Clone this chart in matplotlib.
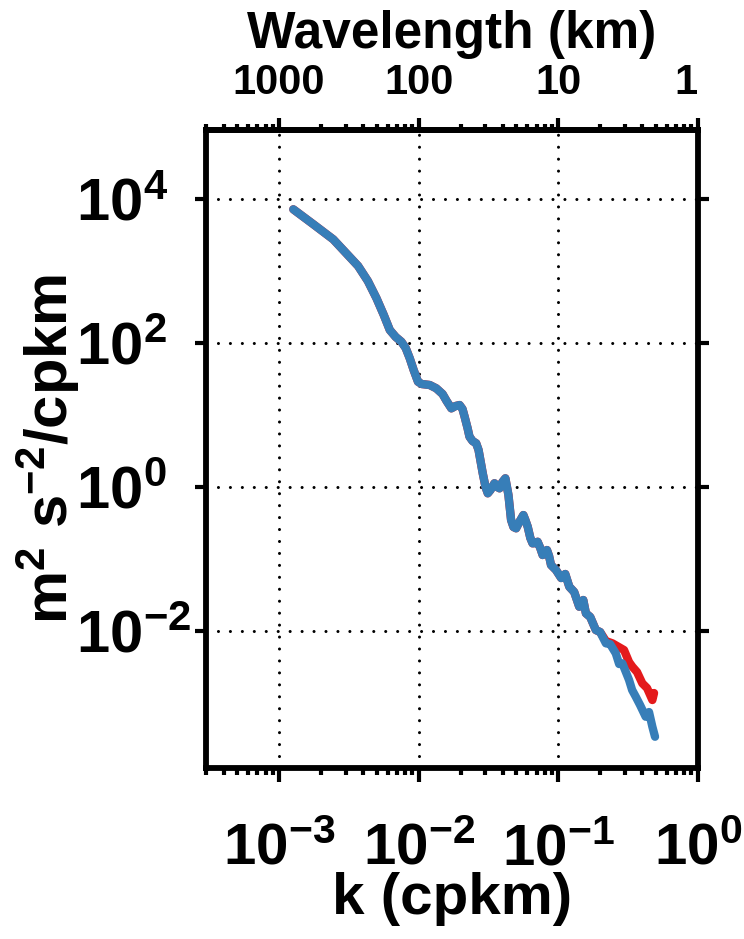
import matplotlib
matplotlib.use('Agg')
import matplotlib.pyplot as plt
import numpy as np
from matplotlib.ticker import FixedLocator, FixedFormatter, NullLocator, LogLocator, NullFormatter

plt.rcParams['font.family'] = ['Liberation Sans', 'DejaVu Sans']
plt.rcParams['font.weight'] = 'bold'
plt.rcParams['axes.labelweight'] = 'bold'
plt.rcParams['mathtext.fontset'] = 'custom'
plt.rcParams['mathtext.rm'] = 'Liberation Sans:bold'
plt.rcParams['mathtext.bf'] = 'Liberation Sans:bold'
plt.rcParams['mathtext.it'] = 'Liberation Sans:bold'
plt.rcParams['mathtext.default'] = 'rm'

# spectra as log10(k [cpkm]) and log10(E [m^2 s^-2 / cpkm])
log_k_blue = [-2.898, -2.757, -2.612, -2.434, -2.364, -2.302, -2.250, -2.207,
              -2.164, -2.124, -2.093, -2.064, -2.036, -2.005, -1.979, -1.921,
              -1.874, -1.829, -1.800, -1.766, -1.736, -1.707, -1.686, -1.671,
              -1.650, -1.636, -1.614, -1.588, -1.571, -1.541, -1.521, -1.505,
              -1.486, -1.457, -1.436, -1.421, -1.400, -1.379, -1.357, -1.338,
              -1.321, -1.302, -1.279, -1.250, -1.236, -1.219, -1.200, -1.184,
              -1.164, -1.148, -1.129, -1.112, -1.096, -1.081, -1.066, -1.052,
              -1.016, -0.979, -0.950, -0.921, -0.886, -0.850, -0.821, -0.802,
              -0.771, -0.731, -0.700, -0.659, -0.629, -0.588, -0.564, -0.541,
              -0.493, -0.471, -0.445, -0.414, -0.374, -0.350, -0.326, -0.307]
log_E_blue = [3.861, 3.657, 3.444, 3.074, 2.865, 2.625, 2.393, 2.185,
              2.087, 2.022, 1.935, 1.792, 1.629, 1.467, 1.435, 1.421,
              1.375, 1.296, 1.199, 1.097, 1.129, 1.143, 1.087, 0.981,
              0.824, 0.703, 0.643, 0.611, 0.518, 0.194, 0.004, -0.083,
              -0.038, 0.056, 0.004, -0.014, 0.074, 0.125, -0.107, -0.454,
              -0.551, -0.569, -0.482, -0.385, -0.454, -0.547, -0.704, -0.778,
              -0.774, -0.756, -0.843, -0.940, -0.913, -0.871, -0.954, -1.079,
              -1.149, -1.260, -1.204, -1.381, -1.454, -1.658, -1.565, -1.750,
              -1.801, -1.982, -2.010, -2.167, -2.176, -2.306, -2.454, -2.444,
              -2.676, -2.815, -2.908, -3.024, -3.186, -3.121, -3.325, -3.464]

# second run follows the first one up to k ~ 0.2 cpkm, then stays higher
log_k_red = log_k_blue[:67] + [-0.659, -0.612, -0.579, -0.529, -0.493, -0.469,
                               -0.436, -0.398, -0.364, -0.326, -0.314]
log_E_red = log_E_blue[:67] + [-2.135, -2.167, -2.204, -2.260, -2.427, -2.492,
                               -2.565, -2.722, -2.788, -2.954, -2.857]

k_blue = 10.0 ** np.array(log_k_blue)
E_blue = 10.0 ** np.array(log_E_blue)
k_red = 10.0 ** np.array(log_k_red)
E_red = 10.0 ** np.array(log_E_red)

ytick_vals = [1e-2, 1e0, 1e2, 1e4]
ytick_labels = [r'$10^{-2}$', r'$10^{0}$', r'$10^{2}$', r'$10^{4}$']
xtick_vals = [1e-3, 1e-2, 1e-1, 1e0]
xtick_labels = [r'$10^{-3}$', r'$10^{-2}$', r'$10^{-1}$', r'$10^{0}$']
wl_labels = ['1000', '100', '10', '1']

fig = plt.figure(figsize=(7.44, 9.39), dpi=100)
ax = fig.add_axes([0.277, 0.182, 0.661, 0.680])

ax.plot(k_red, E_red, color='#e41a1c', lw=6, solid_capstyle='round',
        solid_joinstyle='round', zorder=3)
ax.plot(k_blue, E_blue, color='#377eb8', lw=6, solid_capstyle='round',
        solid_joinstyle='round', zorder=4)

ax.set_xscale('log')
ax.set_yscale('log')
ax.set_xlim(3e-4, 1)
ax.set_ylim(1.26e-4, 9.3e4)

minor_x = LogLocator(base=10, subs=np.arange(2, 10), numticks=20)
ax.yaxis.set_major_locator(FixedLocator(ytick_vals))
ax.yaxis.set_major_formatter(FixedFormatter(ytick_labels))
ax.yaxis.set_minor_locator(NullLocator())
ax.xaxis.set_major_locator(FixedLocator(xtick_vals))
ax.xaxis.set_major_formatter(FixedFormatter(xtick_labels))
ax.xaxis.set_minor_locator(minor_x)
ax.xaxis.set_minor_formatter(NullFormatter())

# dotted grid: round dots about 12 px apart
ax.grid(True, which='major', color='k', linestyle=(0, (0.01, 3.9)), lw=2.2,
        dash_capstyle='round')
for s in ax.spines.values():
    s.set_linewidth(4.2)

ax.tick_params(axis='x', which='major', direction='out', length=10, width=3,
               labelsize=42, pad=29)
ax.tick_params(axis='x', which='minor', direction='out', length=5, width=3)
ax.tick_params(axis='y', which='major', direction='out', length=8, width=3,
               labelsize=43, pad=86, right=True)
plt.setp(ax.get_yticklabels(), ha='left')

ax.set_xlabel('k (cpkm)', fontsize=42)
ax.xaxis.set_label_coords(0.5, -0.163)
ax.set_ylabel(r'$m^{2}\ s^{-2}/cpkm$', fontsize=43)
ax.yaxis.set_label_coords(-0.252, 0.5)

# wavelength axis on top
top = ax.secondary_xaxis('top')
top.set_xticks(xtick_vals)
top.set_xticklabels(wl_labels)
top.xaxis.set_minor_locator(LogLocator(base=10, subs=np.arange(2, 10), numticks=20))
top.xaxis.set_minor_formatter(NullFormatter())
top.tick_params(axis='x', which='major', direction='out', length=9, width=3,
                labelsize=30, pad=10)
top.tick_params(axis='x', which='minor', direction='out', length=4, width=3)
top.spines['top'].set_linewidth(4.2)
top.get_xticklabels()[-1].set_ha('right')
top.set_xlabel('Wavelength (km)', fontsize=37, labelpad=11)

fig.savefig('out.png', dpi=100)
